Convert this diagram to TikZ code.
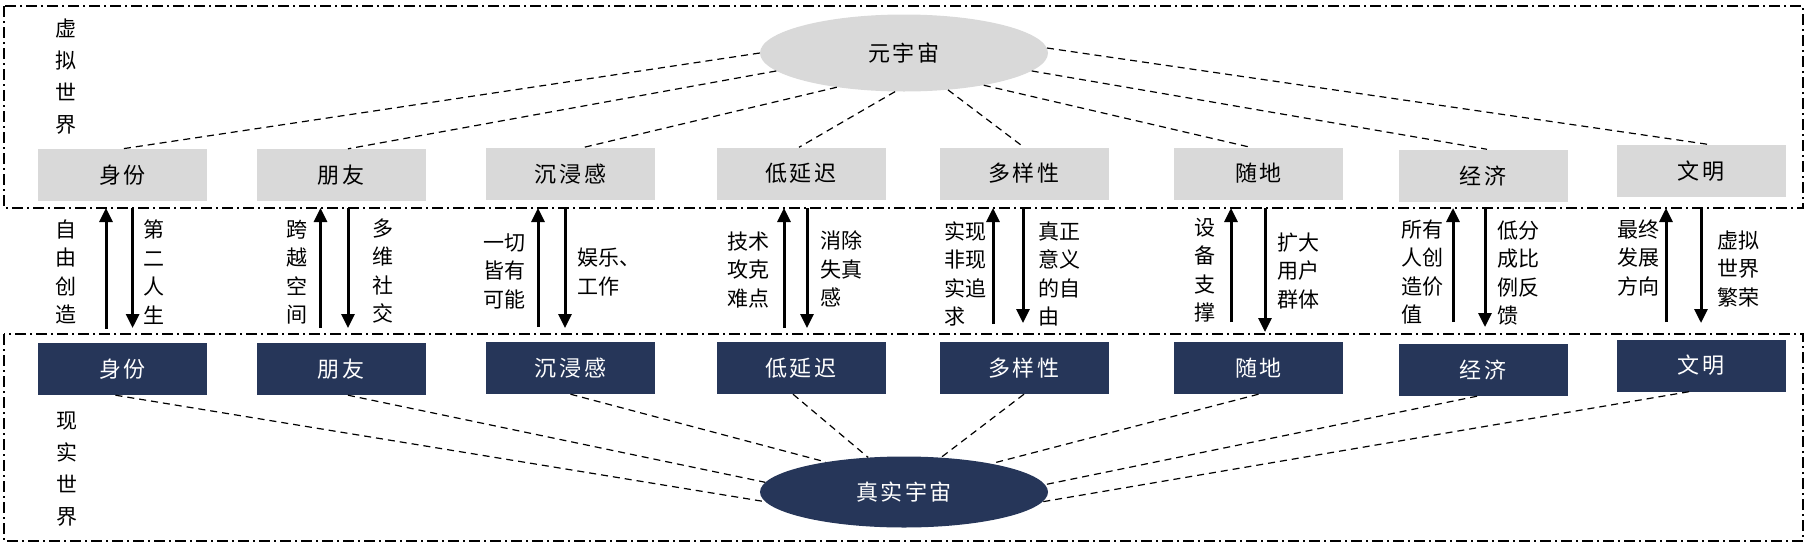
\documentclass[tikz,border=0pt]{standalone}
\usepackage{fontspec}
\setmainfont{Noto Sans CJK SC}
\newfontfamily\spacedcjk[LetterSpace=12]{Noto Sans CJK SC}
\usetikzlibrary{arrows.meta,shapes.geometric}
\definecolor{boxgray}{RGB}{217,217,217}
\definecolor{navy}{RGB}{38,54,89}
\begin{document}
\begin{tikzpicture}[x=1pt,y=-1pt,
  region/.style={draw=black,line width=1.6pt,dash pattern=on 11pt off 4pt on 2pt off 4pt},
  vbox/.style={fill=boxgray,minimum width=169pt,minimum height=52pt,inner sep=0pt,font=\spacedcjk\fontsize{22}{22}\selectfont},
  rbox/.style={fill=navy,text=white,minimum width=169pt,minimum height=52pt,inner sep=0pt,font=\spacedcjk\fontsize{22}{22}\selectfont},
  link/.style={line width=1.2pt,dash pattern=on 7pt off 5pt},
  flow/.style={line width=3pt,-{Triangle[width=13pt,length=14pt]}},
  note/.style={font=\fontsize{21}{28.5}\selectfont,align=left,inner sep=0pt},
  side/.style={font=\fontsize{21}{32}\selectfont,align=center,inner sep=0pt}]
\useasboundingbox (0,0) rectangle (1808,544);
\draw[region] (4,6) rectangle (1803,208);
\draw[region] (4,334) rectangle (1803,541);
% ellipses
\node[ellipse,fill=boxgray,minimum width=288pt,minimum height=77pt,inner sep=0pt,font=\spacedcjk\fontsize{22}{22}\selectfont] (meta) at (904,53) {元宇宙};
\node[ellipse,fill=navy,text=white,minimum width=288pt,minimum height=71pt,inner sep=0pt,font=\spacedcjk\fontsize{22}{22}\selectfont] (real) at (904,492) {真实宇宙};
% virtual boxes
\node[vbox] (v1) at (122.5,175) {身份};
\node[vbox] (v2) at (341,175) {朋友};
\node[vbox] (v3) at (570.5,174) {沉浸感};
\node[vbox] (v4) at (801,173.5) {低延迟};
\node[vbox] (v5) at (1024,173.5) {多样性};
\node[vbox] (v6) at (1258.5,173.5) {随地};
\node[vbox] (v7) at (1483,175.5) {经济};
\node[vbox] (v8) at (1701,171) {文明};
% real boxes
\node[rbox] (r1) at (122.5,369) {身份};
\node[rbox] (r2) at (341,369) {朋友};
\node[rbox] (r3) at (570.5,368) {沉浸感};
\node[rbox] (r4) at (801,368) {低延迟};
\node[rbox] (r5) at (1024,368) {多样性};
\node[rbox] (r6) at (1258.5,368) {随地};
\node[rbox] (r7) at (1483,370) {经济};
\node[rbox] (r8) at (1701,365.5) {文明};
% top links
\draw[link] (meta.180) -- (v1.north);
\draw[link] (meta.188.7) -- ([xshift=7pt]v2.north);
\draw[link] (meta.207.5) -- ([xshift=11.5pt]v3.north);
\draw[link] (meta.257) -- ([xshift=-2pt]v4.north);
\draw[link] (meta.320) -- (v5.north);
\draw[link] (meta.338) -- ([xshift=-8pt]v6.north);
\draw[link] (meta.352) -- ([xshift=4pt]v7.north);
\draw[link] (meta.2) -- ([xshift=10pt]v8.north);
% bottom links
\draw[link] ([xshift=-7pt]r1.south) -- (real.184);
\draw[link] ([xshift=7pt]r2.south) -- (real.176);
\draw[link] (r3.south) -- (real.159);
\draw[link] ([xshift=-8pt]r4.south) -- (real.136.5);
\draw[link] (r5.south) -- (real.43);
\draw[link] (r6.south) -- (real.18);
\draw[link] ([xshift=-6pt]r7.south) -- (real.3);
\draw[link] ([xshift=-12pt]r8.south) -- (real.356);
% arrows
\foreach \n/\ux/\ut/\dx/\dt in {1/106/329/132.6/328,2/320.5/328/348/328,3/538/327/565/328,4/784/328/807/328,5/993/324/1023/323,6/1231/322/1265/332,7/1453/322/1485/327,8/1666/322/1701/323}{
  \coordinate (a\n) at (\ux,\ut);
  \coordinate (b\n) at (\ux,208);
  \coordinate (c\n) at (\dx,208);
  \coordinate (d\n) at (\dx,\dt);
  \draw[flow] (a\n) -- (b\n);
  \draw[flow] (c\n) -- (d\n);
}
% notes
\node[note] (n1l) at (66,272) {自\\由\\创\\造};
\node[note] (n1r) at (154,272) {第\\二\\人\\生};
\node[note] (n2l) at (297,272) {跨\\越\\空\\间};
\node[note] (n2r) at (383,271) {多\\维\\社\\交};
\node[note] (n3l) at (504,271) {一切\\皆有\\可能};
\node[note,anchor=west] (n3r) at (577,272) {娱乐、\\工作};
\node[note] (n4l) at (748,270) {技术\\攻克\\难点};
\node[note,anchor=west] (n4r) at (820,269) {消除\\失真\\感};
\node[note,anchor=west] (n5l) at (944,274) {实现\\非现\\实追\\求};
\node[note,anchor=west] (n5r) at (1038,274) {真正\\意义\\的自\\由};
\node[note] (n6l) at (1205,270) {设\\备\\支\\撑};
\node[note,anchor=west] (n6r) at (1277,271) {扩大\\用户\\群体};
\node[note,anchor=west] (n7l) at (1401,272) {所有\\人创\\造价\\值};
\node[note,anchor=west] (n7r) at (1497,273) {低分\\成比\\例反\\馈};
\node[note,anchor=west] (n8l) at (1617,258) {最终\\发展\\方向};
\node[note,anchor=west] (n8r) at (1717,269) {虚拟\\世界\\繁荣};
% side labels
\node[side] (vw) at (66,77) {虚\\拟\\世\\界};
\node[side] (rw) at (67,469) {现\\实\\世\\界};
\end{tikzpicture}
\end{document}
